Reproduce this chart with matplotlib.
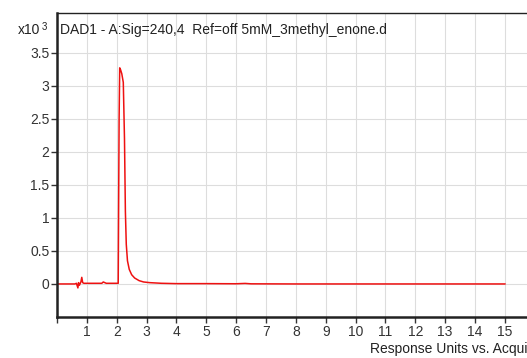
import matplotlib
matplotlib.use("Agg")
import matplotlib.pyplot as plt
import numpy as np

plt.rcParams['font.family'] = ['Liberation Sans', 'DejaVu Sans']

# Chromatogram trace (time in min, response in x10^3)
time = [0.0, 0.6, 0.65, 0.7, 0.72, 0.75, 0.8, 0.83, 0.86, 0.9, 1.0, 1.5, 1.55, 1.6, 1.65, 1.7,
        2.0, 2.05, 2.08, 2.1, 2.13, 2.17, 2.22, 2.26, 2.29, 2.32, 2.36, 2.42, 2.5, 2.6,
        2.75, 2.9, 3.1, 3.5, 4.0, 5.0, 6.0, 6.3, 6.5, 8.0, 10.0, 12.0, 15.0]
resp = [0.0, 0.0, 0.01, -0.06, 0.02, -0.02, 0.03, 0.1, 0.02, 0.01, 0.01, 0.01, 0.03, 0.02, 0.01, 0.01,
        0.01, 0.01, 2.5, 3.27, 3.24, 3.18, 3.05, 2.2, 1.1, 0.6, 0.35, 0.22, 0.14, 0.09,
        0.05, 0.03, 0.02, 0.01, 0.005, 0.005, 0.003, 0.008, 0.002, 0.0, 0.0, 0.0, 0.0]

x_ticks = list(range(0, 16))
x_labels = [''] + [str(i) for i in range(1, 16)]
y_ticks = [0, 0.5, 1, 1.5, 2, 2.5, 3, 3.5]
y_labels = ['0', '0.5', '1', '1.5', '2', '2.5', '3', '3.5']

W, H = 527, 358
fig = plt.figure(figsize=(W / 100, H / 100), dpi=100)
left, right, top, bottom = 57, 540, 13, 317
ax = fig.add_axes([left / W, 1 - bottom / H, (right - left) / W, (bottom - top) / H])

ax.plot(time, resp, color='#ee1111', lw=1.1)
ax.set_xlim(0, (right - left) / 29.86)
ax.set_ylim(-0.5, 4.1)

ax.set_xticks(x_ticks)
ax.set_xticklabels(x_labels, fontsize=10, color='#333333')
ax.set_yticks(y_ticks)
ax.set_yticklabels(y_labels, fontsize=10, color='#333333')
ax.grid(True, color='#dddddd', lw=0.8)
ax.set_axisbelow(True)

for s in ['left', 'bottom']:
    ax.spines[s].set_linewidth(1.8)
    ax.spines[s].set_color('#222222')
ax.spines['top'].set_linewidth(1.0)
ax.spines['top'].set_color('#222222')
ax.spines['right'].set_visible(False)
ax.tick_params(axis='both', direction='out', length=4, width=1, color='#333333', pad=1.5)

ax.text(3 / (right - left), (bottom - 30) / (bottom - top), 'DAD1 - A:Sig=240,4  Ref=off 5mM_3methyl_enone.d',
        transform=ax.transAxes, fontsize=10, color='#222222', va='center', ha='left')
fig.text(18 / W, 1 - 30 / H, 'x10', fontsize=10, color='#222222', va='center', ha='left')
fig.text(42 / W, 1 - 27 / H, '3', fontsize=7, color='#222222', va='center', ha='left')
fig.text(370 / W, 1 - 349 / H, 'Response Units vs. Acquisition Time (min)', fontsize=10,
         color='#222222', va='center', ha='left')

fig.savefig('out.png', dpi=100)
